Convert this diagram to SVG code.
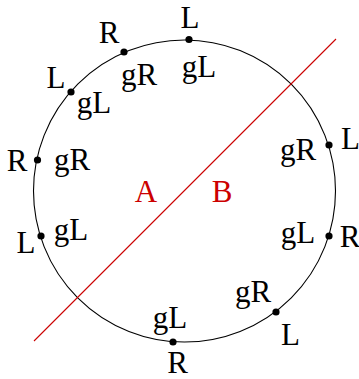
<svg xmlns="http://www.w3.org/2000/svg" width="359" height="379" viewBox="0 0 359 379">
<style>
text{font-family:"Liberation Serif","DejaVu Serif",serif;font-size:31px;text-anchor:middle;fill:#000}
.red{fill:#cc0000}
.dot{fill:#000}
</style>
<rect width="359" height="379" fill="#fff"/>
<g id="connectors">
<circle cx="184.5" cy="191" r="151" fill="none" stroke="#000" stroke-width="1.1"/>
<line x1="34" y1="341" x2="336" y2="39" stroke="#cc0000" stroke-width="1.1"/>
</g>
<g id="regions">
<text class="red" x="146" y="202">A</text>
<text class="red" x="222" y="202">B</text>
</g>
<g id="n1"><circle class="dot" cx="189" cy="39.5" r="3.6"/><text x="190" y="28">L</text><text x="199" y="77">gL</text></g>
<g id="n2"><circle class="dot" cx="124" cy="52" r="3.6"/><text x="109" y="43">R</text><text x="139" y="85">gR</text></g>
<g id="n3"><circle class="dot" cx="71" cy="92" r="3.6"/><text x="56" y="88">L</text><text x="94" y="113">gL</text></g>
<g id="n4"><circle class="dot" cx="37.5" cy="160" r="3.6"/><text x="17" y="170.5">R</text><text x="72" y="170">gR</text></g>
<g id="n5"><circle class="dot" cx="41" cy="236" r="3.6"/><text x="26" y="253">L</text><text x="71" y="240">gL</text></g>
<g id="n6"><circle class="dot" cx="173" cy="342" r="3.6"/><text x="170" y="328">gL</text><text x="177.5" y="372.5">R</text></g>
<g id="n7"><circle class="dot" cx="276" cy="312" r="3.6"/><text x="253" y="301.5">gR</text><text x="290.5" y="345">L</text></g>
<g id="n8"><circle class="dot" cx="329" cy="236" r="3.6"/><text x="298" y="243">gL</text><text x="350" y="246.5">R</text></g>
<g id="n9"><circle class="dot" cx="329" cy="145" r="3.6"/><text x="298" y="160">gR</text><text x="350.5" y="149">L</text></g>
</svg>
